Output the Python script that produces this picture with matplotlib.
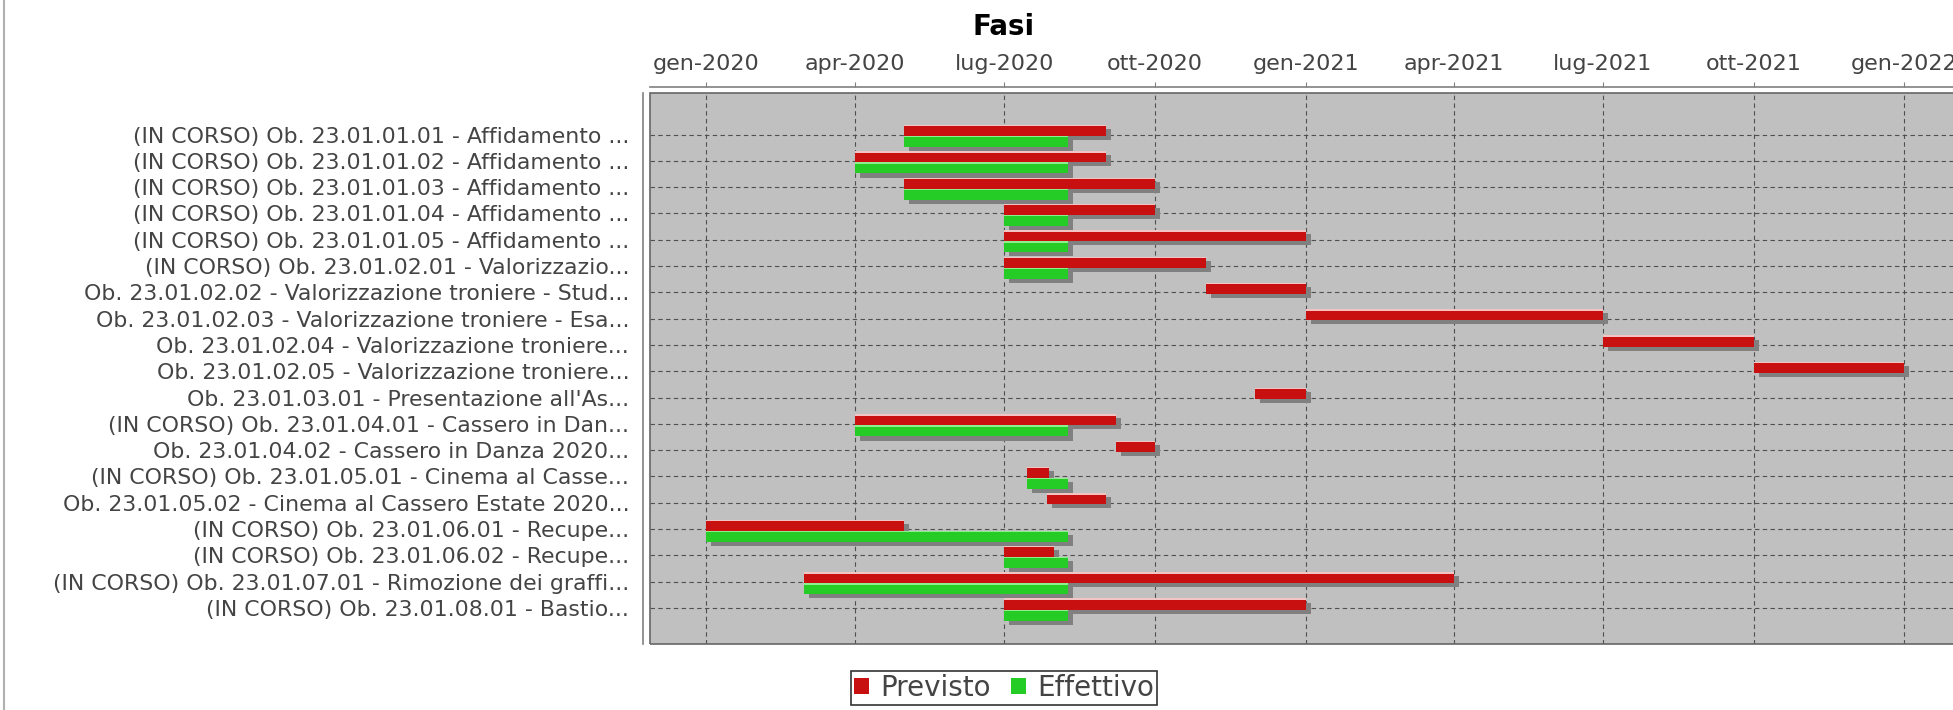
import numpy as np
import matplotlib
matplotlib.use("Agg")
import matplotlib.pyplot as plt
import matplotlib.dates as mdates
import matplotlib.patheffects as pe
from matplotlib.patches import Rectangle, Patch
from matplotlib.lines import Line2D

# data
tasks = [
    "(IN CORSO) Ob. 23.01.01.01 - Affidamento ...",
    "(IN CORSO) Ob. 23.01.01.02 - Affidamento ...",
    "(IN CORSO) Ob. 23.01.01.03 - Affidamento ...",
    "(IN CORSO) Ob. 23.01.01.04 - Affidamento ...",
    "(IN CORSO) Ob. 23.01.01.05 - Affidamento ...",
    "(IN CORSO) Ob. 23.01.02.01 - Valorizzazio...",
    "Ob. 23.01.02.02 - Valorizzazione troniere - Stud...",
    "Ob. 23.01.02.03 - Valorizzazione troniere - Esa...",
    "Ob. 23.01.02.04 - Valorizzazione troniere...",
    "Ob. 23.01.02.05 - Valorizzazione troniere...",
    "Ob. 23.01.03.01 - Presentazione all'As...",
    "(IN CORSO) Ob. 23.01.04.01 - Cassero in Dan...",
    "Ob. 23.01.04.02 - Cassero in Danza 2020...",
    "(IN CORSO) Ob. 23.01.05.01 - Cinema al Casse...",
    "Ob. 23.01.05.02 - Cinema al Cassero Estate 2020...",
    "(IN CORSO) Ob. 23.01.06.01 - Recupe...",
    "(IN CORSO) Ob. 23.01.06.02 - Recupe...",
    "(IN CORSO) Ob. 23.01.07.01 - Rimozione dei graffi...",
    "(IN CORSO) Ob. 23.01.08.01 - Bastio...",
]

previsto_start = ["2020-05-01", "2020-04-01", "2020-05-01", "2020-07-01", "2020-07-01",
                  "2020-07-01", "2020-11-01", "2021-01-01", "2021-07-01", "2021-10-01",
                  "2020-12-01", "2020-04-01", "2020-09-07", "2020-07-15", "2020-07-27",
                  "2020-01-01", "2020-07-01", "2020-03-01", "2020-07-01"]
previsto_end = ["2020-09-01", "2020-09-01", "2020-10-01", "2020-10-01", "2021-01-01",
                "2020-11-01", "2021-01-01", "2021-07-01", "2021-10-01", "2022-01-01",
                "2021-01-01", "2020-09-07", "2020-10-01", "2020-07-28", "2020-09-01",
                "2020-05-01", "2020-07-31", "2021-04-01", "2021-01-01"]

effettivo_start = ["2020-05-01", "2020-04-01", "2020-05-01", "2020-07-01", "2020-07-01",
                   "2020-07-01", None, None, None, None,
                   None, "2020-04-01", None, "2020-07-15", None,
                   "2020-01-01", "2020-07-01", "2020-03-01", "2020-07-01"]
effettivo_end = ["2020-08-09", "2020-08-09", "2020-08-09", "2020-08-09", "2020-08-09",
                 "2020-08-09", None, None, None, None,
                 None, "2020-08-09", None, "2020-08-09", None,
                 "2020-08-09", "2020-08-09", "2020-08-09", "2020-08-09"]

tick_dates = ["2020-01-01", "2020-04-01", "2020-07-01", "2020-10-01", "2021-01-01",
              "2021-04-01", "2021-07-01", "2021-10-01", "2022-01-01"]
tick_labels = ["gen-2020", "apr-2020", "lug-2020", "ott-2020", "gen-2021",
               "apr-2021", "lug-2021", "ott-2021", "gen-2022"]

RED = "#c81010"
GREEN = "#26cc26"
TXT = "#444444"


def d2n(s):
    return mdates.datestr2num(s)


fig = plt.figure(figsize=(19.53, 7.10), dpi=100)
ax = fig.add_axes([650 / 1953, 66 / 710, 1.005 - 650 / 1953, (644 - 93) / 710])
ax.set_facecolor("#c0c0c0")

rows = np.arange(len(tasks))
shadow = [pe.SimplePatchShadow(offset=(3.6, -2.9), shadow_rgbFace="#808080", alpha=1.0), pe.Normal()]

for i in rows:
    x0, x1 = d2n(previsto_start[i]), d2n(previsto_end[i])
    ax.barh(i - 0.15, x1 - x0, left=x0, height=0.42, color=RED, zorder=3, path_effects=shadow)
    ax.barh(i - 0.335, x1 - x0, left=x0, height=0.05, color="#f2c4c4", zorder=4)
for i in rows:
    if effettivo_start[i] is None:
        continue
    x0, x1 = d2n(effettivo_start[i]), d2n(effettivo_end[i])
    ax.barh(i + 0.27, x1 - x0, left=x0, height=0.42, color=GREEN, zorder=5, path_effects=shadow)
    ax.barh(i + 0.085, x1 - x0, left=x0, height=0.05, color="#8fef8f", zorder=6)

# axes ranges
origin = d2n("2020-01-01")
ax.set_xlim(origin - 34.2, origin + 766.6)
ax.set_ylim(len(tasks) - 1 + 1.37, -1.58)

# grid
for t in tick_dates:
    ax.axvline(d2n(t), color="#505050", lw=0.8, ls=(0, (4, 3)), zorder=1)
for i in rows:
    ax.axhline(i, color="#505050", lw=0.8, ls=(0, (4, 3)), zorder=1)

# date axis on top
ax.xaxis.tick_top()
ax.set_xticks([d2n(t) for t in tick_dates])
ax.set_xticklabels(tick_labels)
ax.tick_params(axis="x", which="both", top=True, bottom=False, direction="out", length=3.6,
               width=0.8, color="#808080", pad=5.5, labelsize=16, labelcolor=TXT)

ax.set_yticks(rows)
ax.set_yticklabels(tasks)
ax.tick_params(axis="y", length=0, pad=10, labelsize=15.8, labelcolor=TXT)

for s in ["bottom", "right"]:
    ax.spines[s].set_visible(False)
ax.spines["top"].set_position(("outward", 4.5))
ax.spines["left"].set_position(("outward", 5))
for s in ["top", "left"]:
    ax.spines[s].set_color("#808080")
    ax.spines[s].set_linewidth(1.2)

ax.add_patch(Rectangle((0, 0), 1, 1, transform=ax.transAxes, fill=False,
                       edgecolor="#666666", lw=1.2, zorder=10, clip_on=False))

fig.text(1004 / 1953, 1 - 27 / 710, "Fasi", ha="center", va="center",
         fontsize=20, fontweight="bold", color="black")

handles = [Patch(facecolor=RED, edgecolor="none", label="Previsto"),
           Patch(facecolor=GREEN, edgecolor="none", label="Effettivo")]
leg = fig.legend(handles=handles, loc="upper center", bbox_to_anchor=(1004 / 1953, 1 - 671 / 710),
                 ncol=2, fontsize=20, frameon=True, fancybox=False, borderpad=0.1,
                 handlelength=0.55, handleheight=0.55, handletextpad=0.4, columnspacing=0.7,
                 borderaxespad=0)
leg.get_frame().set_edgecolor("black")
leg.get_frame().set_linewidth(1.2)
for t in leg.get_texts():
    t.set_color(TXT)

fig.add_artist(Line2D([4 / 1953, 4 / 1953], [0, 1], color="#b0b0b0", lw=1.5))

fig.savefig("out.png", dpi=100)
